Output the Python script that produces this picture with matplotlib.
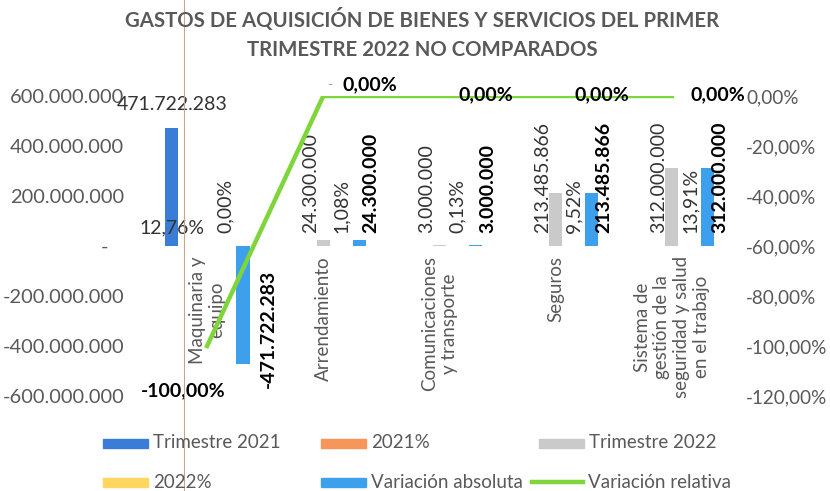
import matplotlib.pyplot as plt
from matplotlib.lines import Line2D
from matplotlib.patches import Rectangle
from matplotlib.ticker import FuncFormatter, MultipleLocator

plt.rcParams['font.family'] = ['Lato', 'DejaVu Sans']

categorias = ["Maquinaria y\nequipo", "Arrendamiento", "Comunicaciones\ny transporte",
              "Seguros", "Sistema de\ngestión de la\nseguridad y salud\nen el trabajo"]
trimestre_2021 = [471722283, 0, 0, 0, 0]
pct_2021 = [0.1276, 0, 0, 0, 0]
trimestre_2022 = [0, 24300000, 3000000, 213485866, 312000000]
pct_2022 = [0.0, 0.0108, 0.0013, 0.0952, 0.1391]
variacion_abs = [-471722283, 24300000, 3000000, 213485866, 312000000]
variacion_rel = [-1.0, 0.0, 0.0, 0.0, 0.0]

series = ["Trimestre 2021", "2021%", "Trimestre 2022", "2022%",
          "Variación absoluta", "Variación relativa"]
colores = ["#3a7dd6", "#f7965a", "#cacaca", "#ffd660", "#3da0ec", "#7ed63b"]

GRIS = "#595959"
OSCURO = "#333333"
FS = 13.5     # category / legend text
FS_EJE = 14.4 # left axis
FS_DER = 13.6 # right axis
FS_DAT = 14   # data labels


def px(v):
    # pixels -> points (dpi 100)
    return v * 0.72


def miles(v, pos=None):
    if v == 0:
        return "-   "
    return f"{v:,.0f}".replace(",", ".")


def porc(v, pos=None):
    return f"{v * 100:.2f}%".replace(".", ",")


fig = plt.figure(figsize=(8.3, 4.91), dpi=100)
ax = fig.add_axes([149 / 830, 1 - 396 / 491, 581 / 830, 300 / 491])

x = list(range(len(categorias)))
paso = 0.1545
ancho = 0.112
valores = [trimestre_2021, pct_2021, trimestre_2022, pct_2022, variacion_abs]
for i, vals in enumerate(valores):
    xs = [c + (i - 2) * paso for c in x]
    ax.bar(xs, vals, width=ancho, color=colores[i], zorder=2)

ax.set_xlim(-0.5, 4.5)
ax.set_ylim(-6e8, 6e8)
ax.yaxis.set_major_locator(MultipleLocator(2e8))
ax.yaxis.set_major_formatter(FuncFormatter(miles))
ax.tick_params(axis='y', length=0, pad=px(25), labelsize=FS_EJE, labelcolor=GRIS)
ax.set_xticks([])
for s in ax.spines.values():
    s.set_visible(False)

ax2 = ax.twinx()
ax2.set_ylim(-1.2, 0)
ax2.yaxis.set_major_locator(MultipleLocator(0.2))
ax2.yaxis.set_major_formatter(FuncFormatter(porc))
ax2.tick_params(axis='y', length=0, pad=px(16), labelsize=FS_DER, labelcolor=GRIS)
for s in ax2.spines.values():
    s.set_visible(False)
ax2.plot(x, variacion_rel, color=colores[5], lw=3.2, solid_joinstyle='round', zorder=3)

# category labels along the zero line
for c, nombre in zip(x, categorias):
    ax.annotate(nombre, (c, 0), xytext=(0, px(-10)), textcoords='offset points',
                rotation=90, ha='center', va='top', multialignment='center',
                fontsize=FS, color=GRIS)

# data labels
for c, v in zip(x, trimestre_2021):
    if v != 0:
        ax.annotate(miles(v), (c - 2 * paso, v), xytext=(px(1), px(15)),
                    textcoords='offset points', ha='center', va='bottom',
                    fontsize=FS_DAT, color=OSCURO)
for c, v in zip(x, pct_2021):
    if v != 0:
        ax.annotate(porc(v), (c - paso, 0), xytext=(px(-17), px(10)),
                    textcoords='offset points', ha='center', va='bottom',
                    fontsize=FS_DAT, color=OSCURO)
for c, v in zip(x, trimestre_2022):
    if v != 0:
        ax.annotate(miles(v), (c, 0), xytext=(px(-13), px(13)),
                    textcoords='offset points', ha='center', va='bottom',
                    rotation=90, fontsize=FS_DAT, color=OSCURO)
for c, v in zip(x, pct_2022):
    ax.annotate(porc(v), (c + paso, 0), xytext=(0, px(13)),
                textcoords='offset points', ha='center', va='bottom',
                rotation=90, fontsize=FS_DAT, color=OSCURO)
for c, v in zip(x, variacion_abs):
    if v >= 0:
        ax.annotate(miles(v), (c + 2 * paso, 0), xytext=(px(12), px(13)),
                    textcoords='offset points', ha='center', va='bottom',
                    rotation=90, fontsize=FS_DAT, color='black', fontweight='bold')
    else:
        ax.annotate(miles(v), (c + 2 * paso, 0), xytext=(px(25), px(-24)),
                    textcoords='offset points', ha='center', va='top',
                    rotation=90, fontsize=FS_DAT, color='black', fontweight='bold')
for c, v in zip(x, variacion_rel):
    if v < 0:
        ax2.annotate(porc(v), (c, v), xytext=(px(-24), px(-45)),
                     textcoords='offset points', ha='center', va='center',
                     fontsize=FS_DAT, color='black', fontweight='bold')
    else:
        dy = 11 if c == 1 else 1
        ax2.annotate(porc(v), (c, v), xytext=(px(19), px(dy)),
                     textcoords='offset points', ha='left', va='center',
                     fontsize=FS_DAT, color='black', fontweight='bold')
# stray "-" label next to the Arrendamiento point
ax2.annotate("-", (1, 0), xytext=(px(6), px(11)), textcoords='offset points',
             ha='center', va='center', fontsize=10, color="#9a9a9a")

# title
fig.text(422 / 830, 1 - 20 / 491, "GASTOS DE AQUISICIÓN DE BIENES Y SERVICIOS DEL PRIMER",
         ha='center', va='center', fontsize=14.7, fontweight='bold', color=GRIS)
fig.text(422 / 830, 1 - 50 / 491, "TRIMESTRE 2022 NO COMPARADOS",
         ha='center', va='center', fontsize=14.7, fontweight='bold', color=GRIS)

# legend, laid out like the Excel one (row by row)
filas = [(443, [(103, 0), (321, 1), (539, 2)]),
         (482, [(103, 3), (321, 4), (532, 5)])]
for y, items in filas:
    for xpos, k in items:
        yf = 1 - y / 491
        if k == 5:
            fig.add_artist(Line2D([xpos / 830, (xpos + 51) / 830], [yf, yf],
                                  color=colores[k], lw=3.2))
            xt = xpos + 56
        else:
            fig.add_artist(Rectangle((xpos / 830, yf - 4.5 / 491), 45 / 830, 9 / 491,
                                     color=colores[k], transform=fig.transFigure))
            xt = xpos + 50
        fig.text(xt / 830, yf, series[k], ha='left', va='center',
                 fontsize=FS, color=GRIS)

# faint scan line
fig.add_artist(Line2D([184 / 830, 184 / 830], [0, 1], color="#c9a48a", lw=0.8))

fig.savefig("out.png", dpi=100)
